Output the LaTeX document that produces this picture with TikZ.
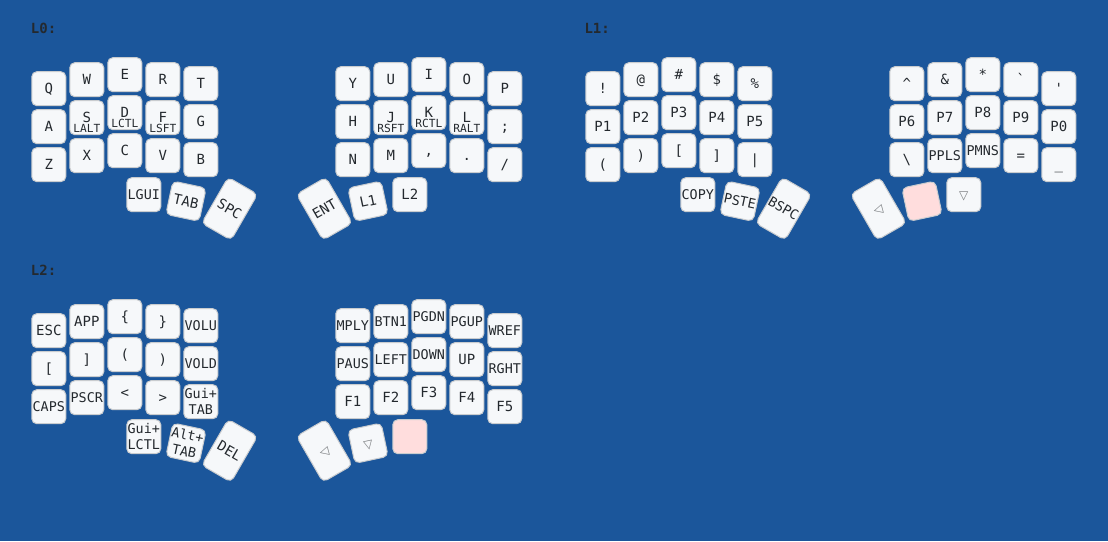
\documentclass[tikz,border=0pt]{standalone}
\usepackage{fontspec}
\setmonofont{DejaVu Sans Mono}
\newfontfamily\symf{DejaVu Sans}
\definecolor{bgblue}{RGB}{27,86,155}
\definecolor{keyfill}{HTML}{F6F8FA}
\definecolor{keystroke}{HTML}{C9CCCF}
\definecolor{keytext}{HTML}{24292E}
\definecolor{heldfill}{HTML}{FFDDDD}
\definecolor{transtext}{HTML}{7B7E81}
\newcommand\KY[5][]{\node[kb,#1] (#2) at (#3,#4) {#5};}
\newcommand\HL[2]{\node[holdl] (#1h) at ([yshift=-15pt]#1.center) {#2};}
\tikzset{
  kb/.style={draw=keystroke, fill=keyfill, line width=1pt, rounded corners=5pt,
    minimum width=34pt, minimum height=34pt, inner sep=0pt, outer sep=0pt, text=keytext,
    font=\ttfamily\fontsize{14}{16.8}\selectfont, text height=10.2pt, text depth=0pt, align=center},
  four/.style={font=\ttfamily\fontsize{13.4}{16.5}\selectfont, text height=9.8pt},
  multi/.style={font=\ttfamily\fontsize{13.4}{16.5}\selectfont, text height=26.3pt, text depth=0pt},
  tall/.style={minimum height=53pt},
  held/.style={fill=heldfill},
  holdl/.style={inner sep=0pt, text=keytext, font=\ttfamily\fontsize{11.2}{13}\selectfont, anchor=base},
  tri/.style={inner sep=0pt, text=transtext, font=\symf\fontsize{12}{14}\selectfont, yshift=-1.5pt},
  lbl/.style={inner sep=0pt, anchor=base west, text=keytext, font=\ttfamily\bfseries\fontsize{14}{16.8}\selectfont},
}
\begin{document}
\begin{tikzpicture}[x=1pt,y=-1pt]
\fill[bgblue] (0,0) rectangle (1108,541);
\useasboundingbox (0,0) rectangle (1108,541);

% ---------------- L0 ----------------
\node[lbl] (la) at (30.7,33.3) {L0:};
\KY{a00}{48.8}{88.7}{Q}
\KY{a01}{86.8}{79.7}{W}
\KY{a02}{124.8}{74.7}{E}
\KY{a03}{162.8}{79.7}{R}
\KY{a04}{200.8}{83.7}{T}
\KY{a10}{48.8}{126.7}{A}
\KY{a11}{86.8}{117.7}{S}\HL{a11}{LALT}
\KY{a12}{124.8}{112.7}{D}\HL{a12}{LCTL}
\KY{a13}{162.8}{117.7}{F}\HL{a13}{LSFT}
\KY{a14}{200.8}{121.7}{G}
\KY{a20}{48.8}{164.7}{Z}
\KY{a21}{86.8}{155.7}{X}
\KY{a22}{124.8}{150.7}{C}
\KY{a23}{162.8}{155.7}{V}
\KY{a24}{200.8}{159.7}{B}
\KY[four]{a30}{143.8}{194.7}{LGUI}
\KY[rotate=-12]{a31}{186}{201.2}{TAB}
\KY[tall,rotate=-30]{a32}{229.6}{208.7}{SPC}
\KY{a05}{352.8}{83.7}{Y}
\KY{a06}{390.8}{79.7}{U}
\KY{a07}{428.8}{74.7}{I}
\KY{a08}{466.8}{79.7}{O}
\KY{a09}{504.8}{88.7}{P}
\KY{a15}{352.8}{121.7}{H}
\KY{a16}{390.8}{117.7}{J}\HL{a16}{RSFT}
\KY{a17}{428.8}{112.7}{K}\HL{a17}{RCTL}
\KY{a18}{466.8}{117.7}{L}\HL{a18}{RALT}
\KY{a19}{504.8}{126.7}{;}
\KY{a25}{352.8}{159.7}{N}
\KY{a26}{390.8}{155.7}{M}
\KY{a27}{428.8}{150.7}{,}
\KY{a28}{466.8}{155.7}{.}
\KY{a29}{504.8}{164.7}{/}
\KY[tall,rotate=30]{a33}{324.4}{208.7}{ENT}
\KY[rotate=12]{a34}{368}{201.2}{L1}
\KY{a35}{409.8}{194.7}{L2}

% ---------------- L1 ----------------
\begin{scope}[shift={(554,0)}]
\node[lbl] (lb) at (30.3,33.3) {L1:};
\KY{b00}{48.8}{88.7}{!}
\KY{b01}{86.8}{79.7}{@}
\KY{b02}{124.8}{74.7}{\#}
\KY{b03}{162.8}{79.7}{\$}
\KY{b04}{200.8}{83.7}{\%}
\KY{b10}{48.8}{126.7}{P1}
\KY{b11}{86.8}{117.7}{P2}
\KY{b12}{124.8}{112.7}{P3}
\KY{b13}{162.8}{117.7}{P4}
\KY{b14}{200.8}{121.7}{P5}
\KY{b20}{48.8}{164.7}{(}
\KY{b21}{86.8}{155.7}{)}
\KY{b22}{124.8}{150.7}{[}
\KY{b23}{162.8}{155.7}{]}
\KY{b24}{200.8}{159.7}{|}
\KY[four]{b30}{143.8}{194.7}{COPY}
\KY[four,rotate=-12]{b31}{186}{201.2}{PSTE}
\KY[four,tall,rotate=-30]{b32}{229.6}{208.7}{BSPC}
\KY{b05}{352.8}{83.7}{\textasciicircum}
\KY{b06}{390.8}{79.7}{\&}
\KY{b07}{428.8}{74.7}{*}
\KY{b08}{466.8}{79.7}{`}
\KY{b09}{504.8}{88.7}{'}
\KY{b15}{352.8}{121.7}{P6}
\KY{b16}{390.8}{117.7}{P7}
\KY{b17}{428.8}{112.7}{P8}
\KY{b18}{466.8}{117.7}{P9}
\KY{b19}{504.8}{126.7}{P0}
\KY{b25}{352.8}{159.7}{\textbackslash}
\KY[four]{b26}{390.8}{155.7}{PPLS}
\KY[four]{b27}{428.8}{150.7}{PMNS}
\KY{b28}{466.8}{155.7}{=}
\KY{b29}{504.8}{164.7}{\_}
\KY[tall,rotate=30]{b33}{324.4}{208.7}{}
\node[tri,rotate=-75] (b33t) at (b33.center) {▽};
\KY[held,rotate=12]{b34}{368}{201.2}{}
\KY{b35}{409.8}{194.7}{}
\node[tri] (b35t) at (b35.center) {▽};
\end{scope}

% ---------------- L2 ----------------
\begin{scope}[shift={(0,242)}]
\node[lbl] (lc) at (30.7,33.3) {L2:};
\KY{c00}{48.8}{88.7}{ESC}
\KY{c01}{86.8}{79.7}{APP}
\KY{c02}{124.8}{74.7}{\{}
\KY{c03}{162.8}{79.7}{\}}
\KY[four]{c04}{200.8}{83.7}{VOLU}
\KY{c10}{48.8}{126.7}{[}
\KY{c11}{86.8}{117.7}{]}
\KY{c12}{124.8}{112.7}{(}
\KY{c13}{162.8}{117.7}{)}
\KY[four]{c14}{200.8}{121.7}{VOLD}
\KY[four]{c20}{48.8}{164.7}{CAPS}
\KY[four]{c21}{86.8}{155.7}{PSCR}
\KY{c22}{124.8}{150.7}{<}
\KY{c23}{162.8}{155.7}{>}
\KY[multi]{c24}{200.8}{159.7}{Gui+\\TAB}
\KY[multi]{c30}{143.8}{194.7}{Gui+\\LCTL}
\KY[multi,rotate=-12]{c31}{186}{201.2}{Alt+\\TAB}
\KY[tall,rotate=-30]{c32}{229.6}{208.7}{DEL}
\KY[four]{c05}{352.8}{83.7}{MPLY}
\KY[four]{c06}{390.8}{79.7}{BTN1}
\KY[four]{c07}{428.8}{74.7}{PGDN}
\KY[four]{c08}{466.8}{79.7}{PGUP}
\KY[four]{c09}{504.8}{88.7}{WREF}
\KY[four]{c15}{352.8}{121.7}{PAUS}
\KY[four]{c16}{390.8}{117.7}{LEFT}
\KY[four]{c17}{428.8}{112.7}{DOWN}
\KY{c18}{466.8}{117.7}{UP}
\KY[four]{c19}{504.8}{126.7}{RGHT}
\KY{c25}{352.8}{159.7}{F1}
\KY{c26}{390.8}{155.7}{F2}
\KY{c27}{428.8}{150.7}{F3}
\KY{c28}{466.8}{155.7}{F4}
\KY{c29}{504.8}{164.7}{F5}
\KY[tall,rotate=30]{c33}{324.4}{208.7}{}
\node[tri,rotate=-75] (c33t) at (c33.center) {▽};
\KY[rotate=12]{c34}{368}{201.2}{\symf\fontsize{12}{14}\selectfont\color{transtext}▽}
\KY[held]{c35}{409.8}{194.7}{}
\end{scope}
\end{tikzpicture}
\end{document}
